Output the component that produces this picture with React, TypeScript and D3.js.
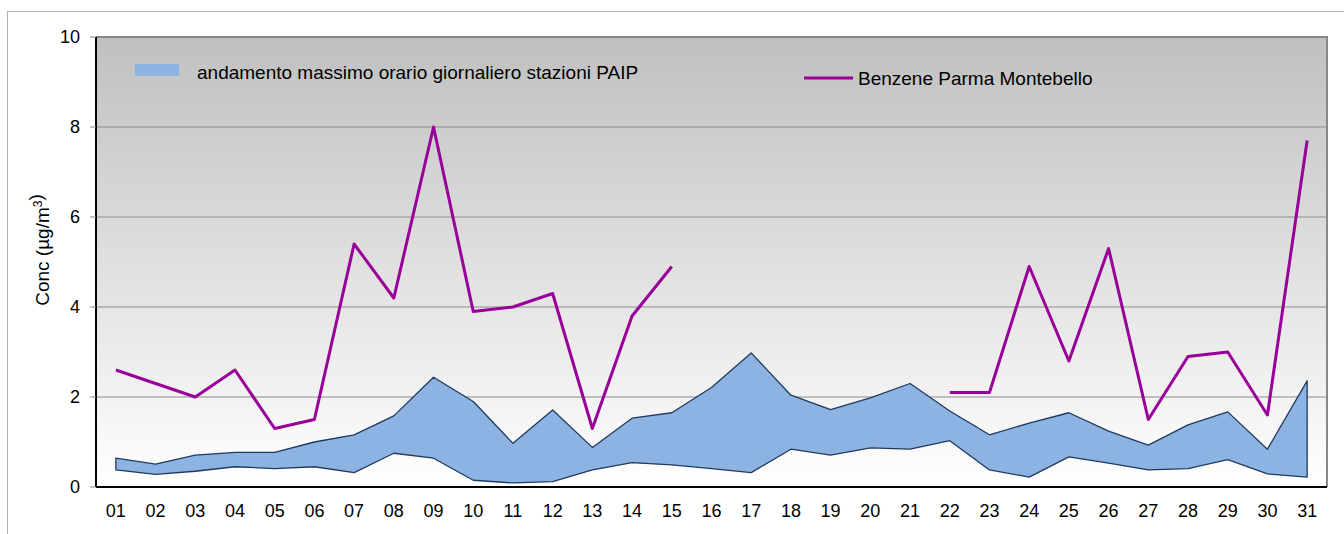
import React from 'react';
import * as d3 from 'd3';

// giorni del mese
const days = ['01','02','03','04','05','06','07','08','09','10','11','12','13','14','15','16','17','18','19','20','21','22','23','24','25','26','27','28','29','30','31'];

// banda PAIP: minimo e massimo del massimo orario giornaliero
const bandLow = [0.38,0.28,0.35,0.45,0.41,0.45,0.32,0.75,0.64,0.15,0.09,0.12,0.38,0.54,0.49,0.41,0.32,0.84,0.71,0.87,0.84,1.03,0.38,0.22,0.67,0.53,0.38,0.41,0.61,0.29,0.22];
const bandHigh = [0.64,0.51,0.71,0.77,0.77,1.0,1.16,1.58,2.44,1.9,0.97,1.71,0.88,1.53,1.65,2.21,2.98,2.04,1.72,1.98,2.3,1.69,1.16,1.42,1.65,1.24,0.93,1.38,1.67,0.84,2.36];

// Benzene Parma Montebello (null = dato mancante)
const benzene: (number | null)[] = [2.6,2.3,2.0,2.6,1.3,1.5,5.4,4.2,8.0,3.9,4.0,4.3,1.3,3.8,4.9,null,null,null,null,null,null,2.1,2.1,4.9,2.8,5.3,1.5,2.9,3.0,1.6,7.7];

const yTicks = [0, 2, 4, 6, 8, 10];

const W = 1344;
const H = 534;
const margin = { top: 37, right: 17, bottom: 47, left: 96 };
const FONT = 'Liberation Sans, Arial, sans-serif';

export default function App() {
  const innerW = W - margin.left - margin.right;
  const innerH = H - margin.top - margin.bottom;

  const x = d3.scaleBand<string>().domain(days).range([0, innerW]);
  const cx = (d: string) => (x(d) ?? 0) + x.bandwidth() / 2;
  const y = d3.scaleLinear().domain([0, 10]).range([innerH, 0]);

  const band = d3
    .area<number>()
    .x((_, i) => cx(days[i]))
    .y0((_, i) => y(bandLow[i]))
    .y1((d) => y(d));

  const line = d3
    .line<number | null>()
    .defined((d) => d !== null)
    .x((_, i) => cx(days[i]))
    .y((d) => y(d as number));

  return (
    <svg width={W} height={H} style={{ position: 'absolute', left: 0, top: 0 }}>
      <defs>
        <linearGradient id="bg" x1="0" y1="0" x2="0" y2="1">
          <stop offset="0" stopColor="#c0c0c0" />
          <stop offset="1" stopColor="#ffffff" />
        </linearGradient>
      </defs>
      {/* cornice esterna */}
      <rect x={7.5} y={11.5} width={W} height={H} fill="none" stroke="#b0b0b0" strokeWidth={1} />

      <g transform={`translate(${margin.left},${margin.top})`}>
        <rect width={innerW} height={innerH} fill="url(#bg)" />
        {yTicks.slice(1, -1).map((t) => (
          <line key={t} x1={0} x2={innerW} y1={y(t)} y2={y(t)} stroke="#8c8c8c" strokeWidth={1} />
        ))}
        {/* bordo superiore e destro */}
        <path d={`M0,0H${innerW}V${innerH}`} fill="none" stroke="#888" strokeWidth={2} />

        <path d={band(bandHigh) ?? ''} fill="#8db3e2" stroke="#1f3a5f" strokeWidth={1.3} strokeLinejoin="round" />
        <path d={line(benzene) ?? ''} fill="none" stroke="#990099" strokeWidth={3} strokeLinejoin="round" />

        {/* assi */}
        <line x1={0} x2={0} y1={0} y2={innerH} stroke="#000" strokeWidth={2} />
        <line x1={0} x2={innerW} y1={innerH} y2={innerH} stroke="#000" strokeWidth={2} />
        {yTicks.map((t) => (
          <g key={t} transform={`translate(0,${y(t)})`}>
            <line x1={-6} x2={0} stroke="#888" />
            <text x={-16} dy="0.35em" textAnchor="end" fontFamily={FONT} fontSize={18} fill="#000">
              {t}
            </text>
          </g>
        ))}
        {days.map((d) => (
          <text key={d} x={cx(d)} y={innerH + 30} textAnchor="middle" fontFamily={FONT} fontSize={18} fill="#000">
            {d}
          </text>
        ))}

        {/* legenda */}
        <rect x={39} y={27} width={44} height={12} fill="#8db3e2" />
        <text x={101} y={42} fontFamily={FONT} fontSize={19} fill="#000">
          andamento massimo orario giornaliero stazioni PAIP
        </text>
        <line x1={708} x2={757} y1={41} y2={41} stroke="#990099" strokeWidth={3} />
        <text x={762} y={48} fontFamily={FONT} fontSize={19} fill="#000">
          Benzene Parma Montebello
        </text>
      </g>

      <text
        transform="translate(49,250) rotate(-90)"
        textAnchor="middle"
        fontFamily={FONT}
        fontSize={19}
        fill="#000"
      >
        Conc (µg/m<tspan dy={-7} fontSize={12}>3</tspan>)
      </text>
    </svg>
  );
}
